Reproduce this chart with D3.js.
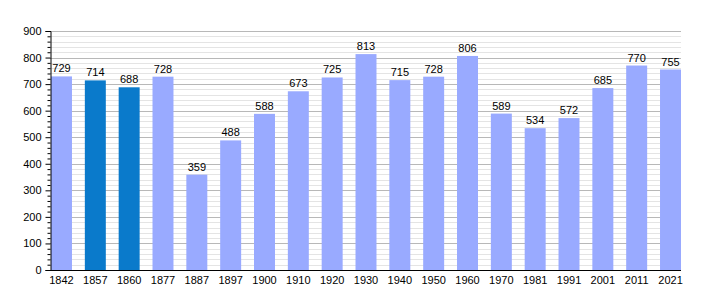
<!DOCTYPE html>
<html>
<head>
<meta charset="utf-8">
<script src="https://cdn.jsdelivr.net/npm/d3@7"></script>
<style>
  body { margin: 0; background: #fff; }
  svg text { font-family: "Liberation Sans", Arial, sans-serif; font-size: 11px; fill: #000; }
</style>
</head>
<body>
<svg id="chart" width="710" height="300"></svg>
<script>
'use strict';

var years = ["1842", "1857", "1860", "1877", "1887", "1897", "1900", "1910", "1920", "1930",
             "1940", "1950", "1960", "1970", "1981", "1991", "2001", "2011", "2021"];
var population = [729, 714, 688, 728, 359, 488, 588, 673, 725, 813,
                  715, 728, 806, 589, 534, 572, 685, 770, 755];
var highlighted = ["1857", "1860"];
var yTicks = [0, 100, 200, 300, 400, 500, 600, 700, 800, 900];

(function() {
    var svg = d3.select("#chart");
    var plotLeft = 50, plotRight = 681, plotTop = 31, plotBottom = 270;

    var x = d3.scaleBand()
        .domain(years)
        .range([plotLeft + 1, plotRight])
        .paddingInner(0.38)
        .paddingOuter(0);

    var y = d3.scaleLinear().domain([0, 900]).range([plotBottom, plotTop]);

    // minor grid every 20
    var minor = d3.range(0, 901, 20).filter(function(v) { return v % 100 !== 0; });
    svg.append("g").selectAll("line")
        .data(minor)
        .enter().append("line")
        .attr("x1", plotLeft).attr("x2", plotRight)
        .attr("y1", function(d) { return Math.round(y(d)) + 0.5; })
        .attr("y2", function(d) { return Math.round(y(d)) + 0.5; })
        .attr("stroke", "#e4e4e4");

    // major grid
    svg.append("g").selectAll("line")
        .data(yTicks.slice(1))
        .enter().append("line")
        .attr("x1", plotLeft).attr("x2", plotRight)
        .attr("y1", function(d) { return Math.round(y(d)) + 0.5; })
        .attr("y2", function(d) { return Math.round(y(d)) + 0.5; })
        .attr("stroke", "#b8b8b8");

    // bars
    svg.append("g").selectAll("rect")
        .data(years)
        .enter().append("rect")
        .attr("x", function(d) { return x(d); })
        .attr("width", x.bandwidth())
        .attr("y", function(d, i) { return y(population[i]); })
        .attr("height", function(d, i) { return plotBottom - y(population[i]); })
        .attr("fill", function(d) { return highlighted.indexOf(d) >= 0 ? "#0a7acb" : "#99aaff"; });

    // value labels
    svg.append("g").selectAll("text")
        .data(years)
        .enter().append("text")
        .attr("x", function(d) { return x(d) + x.bandwidth() / 2; })
        .attr("y", function(d, i) { return y(population[i]) - 4; })
        .attr("text-anchor", "middle")
        .text(function(d, i) { return population[i]; });

    // y axis
    var yAxis = d3.axisLeft(y).tickValues(yTicks).tickSize(5).tickPadding(4);
    var gy = svg.append("g").attr("transform", "translate(" + (plotLeft + 0.5) + ",0)").call(yAxis);
    gy.select(".domain").attr("stroke", "#000");
    gy.selectAll(".tick line").attr("stroke", "#000");
    gy.selectAll("text").style("font-family", '"Liberation Sans", Arial, sans-serif').style("font-size", "11px");

    var yMinor = d3.axisLeft(y).tickValues(minor).tickSize(3).tickFormat("");
    var gm = svg.append("g").attr("transform", "translate(" + (plotLeft + 0.5) + ",0)").call(yMinor);
    gm.select(".domain").remove();
    gm.selectAll(".tick line").attr("stroke", "#000");

    // x axis
    var xAxis = d3.axisBottom(x).tickSize(0).tickPadding(6);
    var gx = svg.append("g").attr("transform", "translate(0," + (plotBottom + 0.5) + ")").call(xAxis);
    gx.select(".domain").attr("stroke", "#000").attr("d", "M" + plotLeft + ",0H" + plotRight);
    gx.selectAll("text").style("font-family", '"Liberation Sans", Arial, sans-serif').style("font-size", "11px");
})();
</script>
</body>
</html>
